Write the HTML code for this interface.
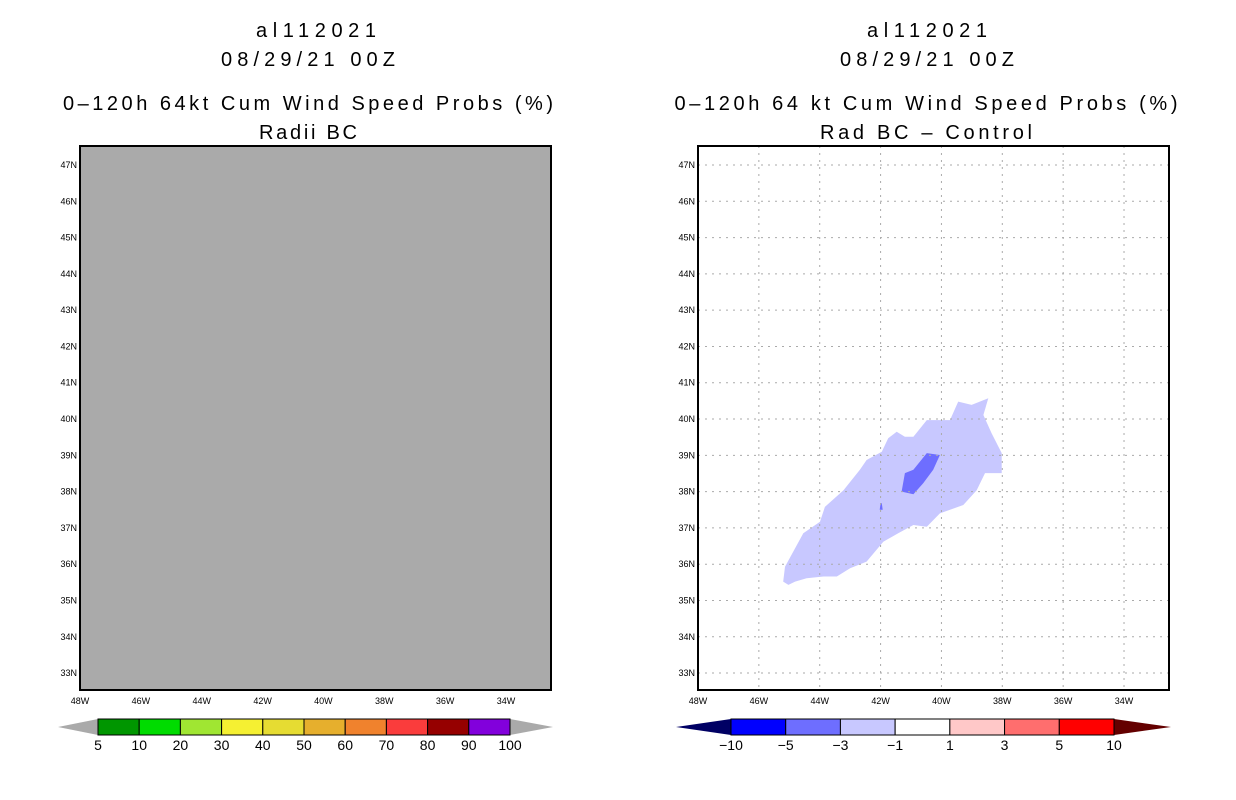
<!DOCTYPE html>
<html><head><meta charset="utf-8"><style>
body{margin:0;background:#fff;width:1236px;height:800px;overflow:hidden;font-family:"Liberation Sans",sans-serif}
svg{position:absolute;left:0;top:0}
</style></head><body>
<svg id="s" width="1236" height="800" xmlns="http://www.w3.org/2000/svg">
<g font-size="20" text-anchor="middle" fill="#000" lengthAdjust="spacing">
<text x="316" y="37" textLength="120" lengthAdjust="spacing">al112021</text>
<text x="308" y="66" textLength="174" lengthAdjust="spacing">08/29/21 00Z</text>
<text x="308" y="110" textLength="490" lengthAdjust="spacing">0–120h 64kt Cum Wind Speed Probs (%)</text>
<text x="308" y="139" textLength="98" lengthAdjust="spacing">Radii BC</text>
<text x="927" y="37" textLength="120" lengthAdjust="spacing">al112021</text>
<text x="927" y="66" textLength="174" lengthAdjust="spacing">08/29/21 00Z</text>
<text x="926" y="110" textLength="503" lengthAdjust="spacing">0–120h 64 kt Cum Wind Speed Probs (%)</text>
<text x="926" y="139" textLength="212" lengthAdjust="spacing">Rad BC – Control</text>
</g>
<g id="left"></g>
<g id="right"></g>
<g id="cb"></g>
</svg>
<script>
const latTicks=[47,46,45,44,43,42,41,40,39,38,37,36,35,34,33];
const lonTicks=[48,46,44,42,40,38,36,34];
const outerLon=[45.20,45.14,44.54,43.99,43.83,43.22,42.68,42.46,41.96,41.75,41.47,41.20,40.92,40.48,39.72,39.45,39.01,38.46,38.62,38.35,38.02,38.02,38.57,38.84,39.28,40.05,40.48,40.92,41.42,41.91,42.46,43.00,43.44,43.88,44.43,44.81,45.03];
const outerLat=[35.52,35.93,36.85,37.17,37.58,38.04,38.60,38.87,39.10,39.47,39.65,39.51,39.51,39.97,39.97,40.48,40.39,40.57,40.11,39.61,39.06,38.51,38.51,38.04,37.63,37.40,37.03,37.08,36.85,36.62,36.07,35.89,35.66,35.66,35.61,35.52,35.43];
const innerLon=[40.48,40.05,40.27,40.60,40.92,41.31,41.20,40.92];
const innerLat=[39.06,39.01,38.60,38.23,37.93,38.00,38.51,38.60];
const blobLon=[42.00,41.96,41.93,42.03];
const blobLat=[37.68,37.68,37.50,37.50];
const probLevels=["5","10","20","30","40","50","60","70","80","90","100"];
const probColors=["#009600","#00dc00","#a0e632","#f5f032","#e6dc32","#e6af2d","#f0822d","#fa3c3c","#960000","#8200dc"];
const diffLevels=["−10","−5","−3","−1","1","3","5","10"];
const diffColors=["#0000ff","#6e6eff","#c8c8ff","#ffffff","#ffc8c8","#ff6e6e","#ff0000"];

const NS="http://www.w3.org/2000/svg";
function mk(p,t,a){const e=document.createElementNS(NS,t);for(const k in a)e.setAttribute(k,a[k]);p.appendChild(e);return e;}
const Y0=146,Y1=690,W=471;
function yS(lat){return 165+(47-lat)*36.29;}
function xS(x0,lon){return x0+(48-lon)*30.43;}

function panel(g,x0,left){
  const bg=mk(g,'rect',{x:x0,y:Y0,width:W,height:Y1-Y0,fill:left?'#aaaaaa':'#fff'});
  
  
  if(!left){
    const sh=(lo,la,c,n)=>{const p=mk(g,'polygon',{points:lo.map((v,i)=>xS(x0,v).toFixed(1)+','+yS(la[i]).toFixed(1)).join(' '),fill:c});
      
      };
    sh(outerLon,outerLat,'#c8c8ff','contour-minus1-to-minus3');
    sh(innerLon,innerLat,'#6e6eff','contour-minus3-to-minus5');
    sh(blobLon,blobLat,'#6e6eff','contour-small-blob');
    latTicks.forEach(la=>{const l=mk(g,'line',{x1:x0,x2:x0+W,y1:yS(la),y2:yS(la),stroke:'#aaa','stroke-dasharray':'2,5'});
      
      });
    lonTicks.forEach(lo=>{const l=mk(g,'line',{x1:xS(x0,lo),x2:xS(x0,lo),y1:Y0,y2:Y1,stroke:'#aaa','stroke-dasharray':'2,5'});
      
      });
  }
  const fr=mk(g,'rect',{x:x0,y:Y0,width:W,height:Y1-Y0,fill:'none',stroke:'#000','stroke-width':2});
  
  
  latTicks.forEach(la=>{const t=mk(g,'text',{x:x0-3,y:yS(la)+3,'font-size':9,'text-anchor':'end'});t.textContent=la+'N';
    
    });
  lonTicks.forEach(lo=>{const t=mk(g,'text',{x:xS(x0,lo),y:704,'font-size':9,'text-anchor':'middle'});t.textContent=lo+'W';
    
    });
}
panel(document.getElementById('left'),80,true);
panel(document.getElementById('right'),698,false);

function cbar(g,tx0,bx0,bx1,tx1,cols,labs,lc,rc){
  const y0=719,y1=735,ym=727,n=cols.length,w=(bx1-bx0)/n;
  const a=mk(g,'polygon',{points:`${tx0},${ym} ${bx0},${y0} ${bx0},${y1}`,fill:lc});
  
  
  const b=mk(g,'polygon',{points:`${tx1},${ym} ${bx1},${y0} ${bx1},${y1}`,fill:rc});
  
  
  cols.forEach((c,i)=>{const r=mk(g,'rect',{x:bx0+i*w,y:y0,width:w,height:y1-y0,fill:c,stroke:'#000','stroke-width':1});
    
    });
  labs.forEach((l,i)=>{const t=mk(g,'text',{x:bx0+i*w,y:750,'font-size':14,'text-anchor':'middle'});t.textContent=l;
    
    });
}
const cb=document.getElementById('cb');
cbar(cb,58,98,510,553,probColors,probLevels,'#aaaaaa','#aaaaaa');
cbar(cb,676,731,1114,1171,diffColors,diffLevels,'#000064','#640000');
</script>
</body></html>
